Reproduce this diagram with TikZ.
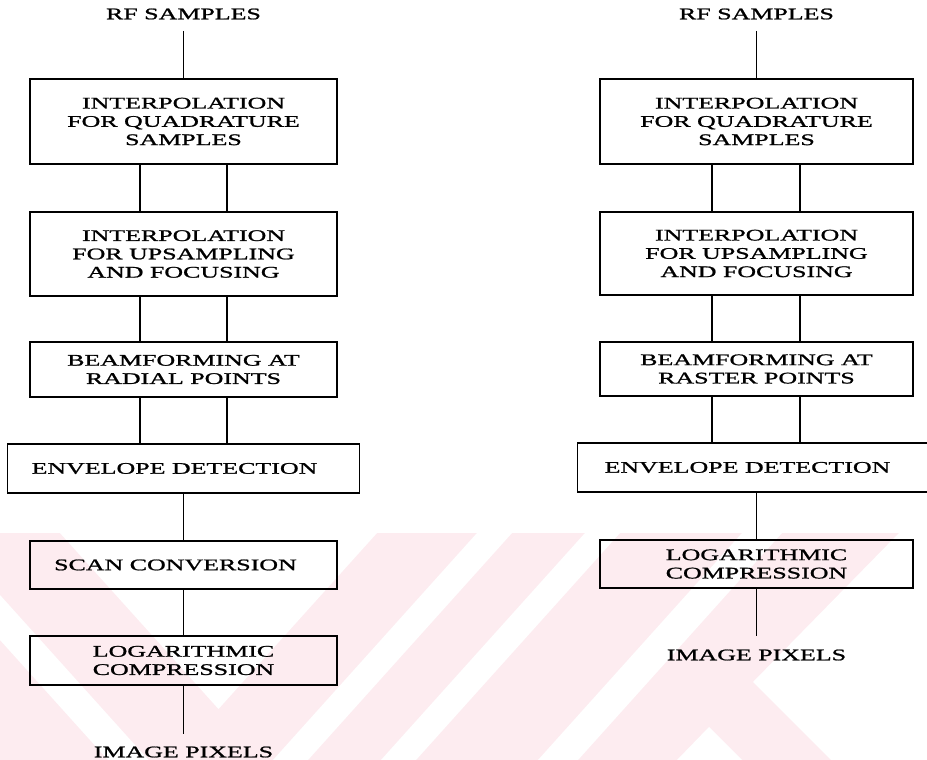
\documentclass[tikz,border=0pt]{standalone}
\usepackage{fontspec}
\setmainfont{Liberation Serif}[FakeStretch=1.6,FakeBold=1.2]
\definecolor{wm}{RGB}{253,236,240}
\newcommand{\diagfont}{\fontsize{16.2}{18.3}\selectfont}
\begin{document}
\begin{tikzpicture}[x=1pt,y=-1pt,
  box/.style={draw=black, line width=1.8pt, inner sep=0pt, align=center, font=\diagfont},
  lbl/.style={inner sep=0pt, align=center, font=\diagfont},
  conn/.style={draw=black, line width=1.8pt}]
\clip (0,0) rectangle (927,760);
\fill[white] (0,0) rectangle (927,760);
% watermark
\begin{scope}
\clip (0,533) rectangle (927,760);
\fill[wm] (0,533) rectangle (927,760);
\fill[white] (0,595) -- (148.5,760) -- (108,760) -- (0,640) -- cycle;
\fill[white] (60,533) -- (377,533) -- (218.5,709) -- cycle;
\fill[white] (477,533) -- (512,533) -- (308,760) -- (273,760) -- cycle;
\fill[white] (585,533) -- (620,533) -- (416,760) -- (381,760) -- cycle;
\fill[white] (742,533) -- (782,533) -- (578,760) -- (538,760) -- cycle;
\fill[white] (899,533) -- (927,533) -- (927,760) -- (831,760) -- (753,682) -- cycle;
\fill[white] (709,727) -- (742,760) -- (677,760) -- cycle;
\end{scope}
% left column
\node[lbl] (rf1) at (183.5,14) {RF SAMPLES};
\node[box, minimum width=307pt, minimum height=85pt] (a1) at (183.5,121.5) {INTERPOLATION\\FOR QUADRATURE\\SAMPLES};
\node[box, minimum width=307pt, minimum height=84pt] (a2) at (183.5,254) {INTERPOLATION\\FOR UPSAMPLING\\AND FOCUSING};
\node[box, minimum width=307pt, minimum height=55pt] (a3) at (183.5,369.5) {BEAMFORMING AT\\RADIAL POINTS};
\node[box, minimum width=352pt, minimum height=49pt] (a4) at (183.5,468.5) {\hspace*{-18pt}ENVELOPE DETECTION};
\node[box, minimum width=307pt, minimum height=48pt] (a5) at (183.5,565) {\hspace*{-16pt}SCAN CONVERSION};
\node[box, minimum width=307pt, minimum height=49pt] (a6) at (183.5,660.5) {LOGARITHMIC\\COMPRESSION};
\node[lbl] (ip1) at (183.5,752) {IMAGE PIXELS};
\draw[conn, shorten <=17pt] (rf1.center) -- (a1.north);
\foreach \s/\t in {a1/a2,a2/a3,a3/a4}{
  \draw[conn] ([xshift=-43.5pt]\s.south) -- ([xshift=-43.5pt]\t.north);
  \draw[conn] ([xshift=43.5pt]\s.south) -- ([xshift=43.5pt]\t.north);
}
\draw[conn] (a4.south) -- (a5.north);
\draw[conn] (a5.south) -- (a6.north);
\draw[conn, shorten >=18pt] (a6.south) -- (ip1.center);
% right column
\node[lbl] (rf2) at (756.5,14) {RF SAMPLES};
\node[box, minimum width=313pt, minimum height=85pt] (b1) at (756.5,121.5) {INTERPOLATION\\FOR QUADRATURE\\SAMPLES};
\node[box, minimum width=313pt, minimum height=83pt] (b2) at (756.5,253.5) {INTERPOLATION\\FOR UPSAMPLING\\AND FOCUSING};
\node[box, minimum width=313pt, minimum height=54pt] (b3) at (756.5,369) {BEAMFORMING AT\\RASTER POINTS};
\node[box, minimum width=358pt, minimum height=49pt] (b4) at (756.5,467.5) {\hspace*{-18pt}ENVELOPE DETECTION};
\node[box, minimum width=313pt, minimum height=48pt] (b5) at (756.5,564) {LOGARITHMIC\\COMPRESSION};
\node[lbl] (ip2) at (756.5,655) {IMAGE PIXELS};
\draw[conn, shorten <=17pt] (rf2.center) -- (b1.north);
\foreach \s/\t in {b1/b2,b2/b3,b3/b4}{
  \draw[conn] ([xshift=-44.5pt]\s.south) -- ([xshift=-44.5pt]\t.north);
  \draw[conn] ([xshift=43.5pt]\s.south) -- ([xshift=43.5pt]\t.north);
}
\draw[conn] (b4.south) -- (b5.north);
\draw[conn, shorten >=19pt] (b5.south) -- (ip2.center);
\end{tikzpicture}
\end{document}
